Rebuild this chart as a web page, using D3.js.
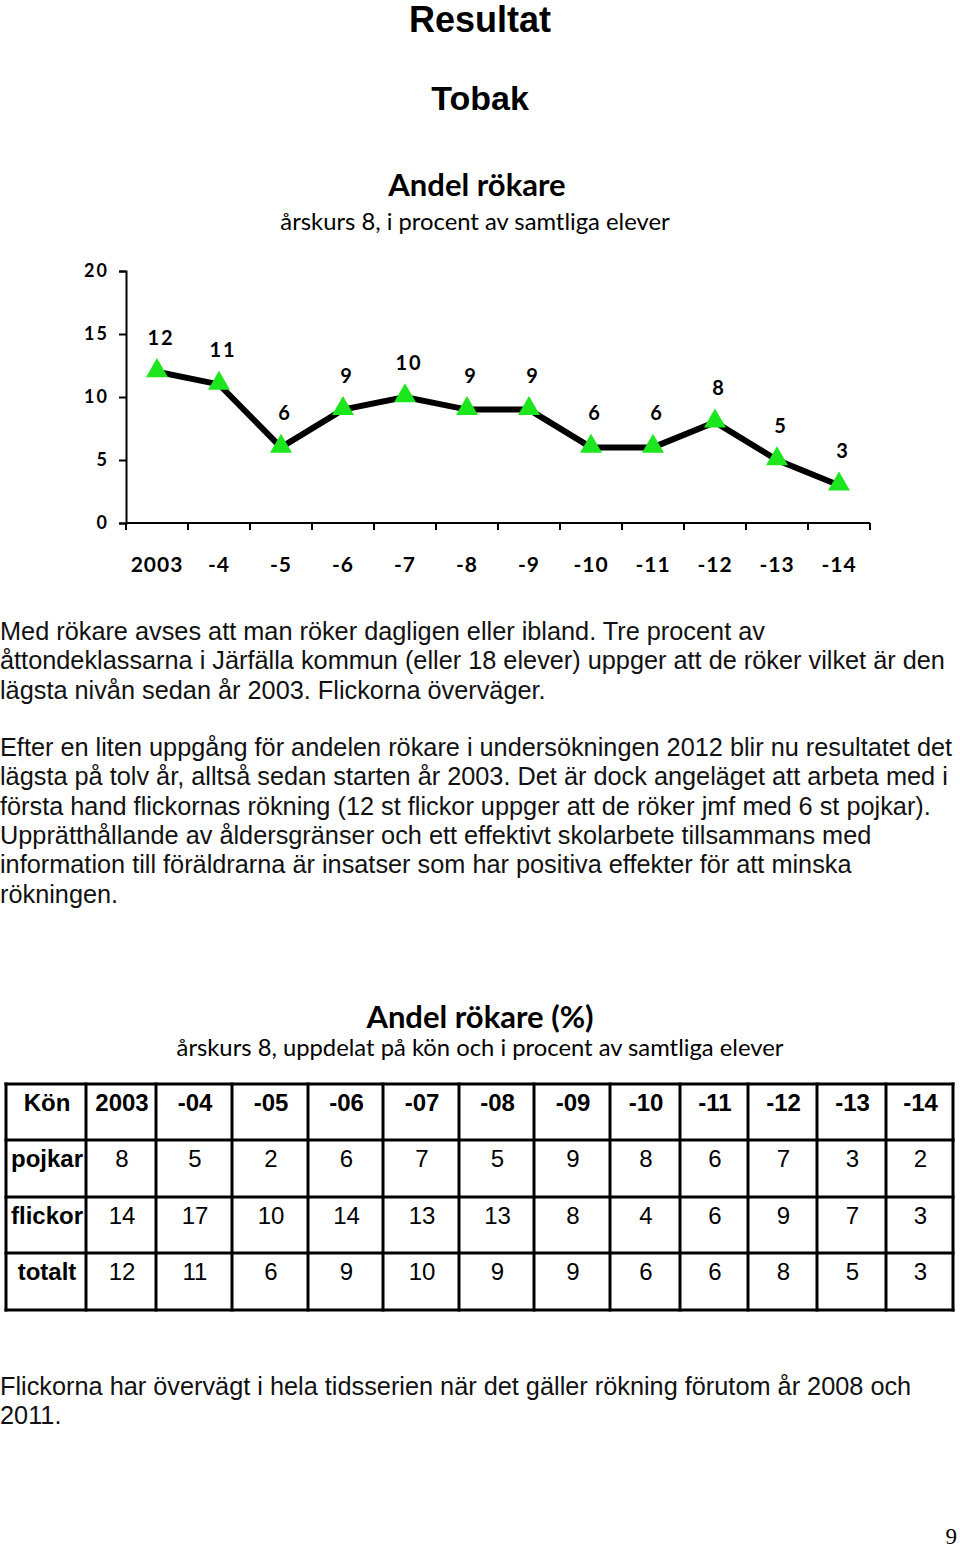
<!DOCTYPE html>
<html>
<head>
<meta charset="utf-8">
<script src="https://cdn.jsdelivr.net/npm/d3@7"></script>
<style>
  html, body { margin: 0; padding: 0; background: #fff; }
  svg { display: block; }
</style>
</head>
<body>
<script>
// ---------- data ----------
const chartCategories = ["2003", "-4", "-5", "-6", "-7", "-8", "-9", "-10", "-11", "-12", "-13", "-14"];
const totalValues = [12, 11, 6, 9, 10, 9, 9, 6, 6, 8, 5, 3];
const yTickValues = [0, 5, 10, 15, 20];

const tableHeader = ["Kön", "2003", "-04", "-05", "-06", "-07", "-08", "-09", "-10", "-11", "-12", "-13", "-14"];
const rowLabels = ["pojkar", "flickor", "totalt"];
const boysValues = [8, 5, 2, 6, 7, 5, 9, 8, 6, 7, 3, 2];
const girlsValues = [14, 17, 10, 14, 13, 13, 8, 4, 6, 9, 7, 3];
const totalTableValues = [12, 11, 6, 9, 10, 9, 9, 6, 6, 8, 5, 3];

const paragraph1 = [
  "Med rökare avses att man röker dagligen eller ibland. Tre procent av",
  "åttondeklassarna i Järfälla kommun (eller 18 elever) uppger att de röker vilket är den",
  "lägsta nivån sedan år 2003. Flickorna överväger."
];
const paragraph2 = [
  "Efter en liten uppgång för andelen rökare i undersökningen 2012 blir nu resultatet det",
  "lägsta på tolv år, alltså sedan starten år 2003. Det är dock angeläget att arbeta med i",
  "första hand flickornas rökning (12 st flickor uppger att de röker jmf med 6 st pojkar).",
  "Upprätthållande av åldersgränser och ett effektivt skolarbete tillsammans med",
  "information till föräldrarna är insatser som har positiva effekter för att minska",
  "rökningen."
];
const paragraph3 = [
  "Flickorna har övervägt i hela tidsserien när det gäller rökning förutom år 2008 och",
  "2011."
];

// ---------- layout ----------
const W = 960, H = 1550;
const svg = d3.select("body").append("svg").attr("width", W).attr("height", H);

const sans = "'Liberation Sans', Arial, Helvetica, sans-serif";
const humanist = "Lato, 'Open Sans', sans-serif";

// Page titles
svg.append("text").attr("x", 480).attr("y", 32).attr("text-anchor", "middle")
  .style("font-family", sans).style("font-weight", "bold").style("font-size", "36px").text("Resultat");
svg.append("text").attr("x", 480).attr("y", 110).attr("text-anchor", "middle")
  .style("font-family", sans).style("font-weight", "bold").style("font-size", "34px").text("Tobak");

// Chart titles
svg.append("text").attr("x", 477).attr("y", 196).attr("text-anchor", "middle")
  .style("font-family", humanist).style("font-weight", "bold").style("font-size", "31px").text("Andel rökare");
svg.append("text").attr("x", 475).attr("y", 230).attr("text-anchor", "middle")
  .style("font-family", humanist).style("font-size", "23.8px").text("årskurs 8, i procent av samtliga elever");

// ---------- line chart ----------
const x = d3.scaleBand().domain(chartCategories).range([126, 870]).padding(0);
const y = d3.scaleLinear().domain([0, 20]).range([523, 271]);

const g = svg.append("g");

// y axis
const yAxis = d3.axisLeft(y).tickValues(yTickValues).tickSize(7).tickPadding(10);
const yg = g.append("g").attr("transform", "translate(126,0)").call(yAxis);
yg.select(".domain").attr("stroke", "#000").attr("stroke-width", 2);
yg.selectAll(".tick line").attr("stroke", "#000").attr("stroke-width", 2);
yg.selectAll(".tick text").style("font-family", humanist).style("font-weight", "bold")
  .style("font-size", "18px").attr("fill", "#000").style("letter-spacing", "2px");

// x axis (ticks between categories)
const xg = g.append("g").attr("transform", "translate(0,523)");
xg.append("line").attr("x1", x.range()[0]).attr("x2", x.range()[1])
  .attr("stroke", "#000").attr("stroke-width", 2);
const tickPos = chartCategories.map(c => x(c)).concat([x.range()[1]]);
xg.selectAll("line.tk").data(tickPos).enter().append("line").attr("class", "tk")
  .attr("x1", d => d).attr("x2", d => d).attr("y1", 0).attr("y2", 7)
  .attr("stroke", "#000").attr("stroke-width", 2);
xg.selectAll("text.xl").data(chartCategories).enter().append("text").attr("class", "xl")
  .attr("x", d => x(d) + x.bandwidth() / 2).attr("y", 49).attr("text-anchor", "middle")
  .style("font-family", humanist).style("font-weight", "bold").style("font-size", "21px")
  .style("letter-spacing", "1px").text(d => d);

// line
const pts = chartCategories.map((c, i) => ({ c, v: totalValues[i] }));
const line = d3.line().x(d => x(d.c) + x.bandwidth() / 2).y(d => y(d.v));
g.append("path").datum(pts).attr("d", line).attr("fill", "none")
  .attr("stroke", "#000").attr("stroke-width", 6).attr("stroke-linejoin", "miter");

// triangles
const tri = d3.symbol().type(d3.symbolTriangle).size(210);
g.selectAll("path.tri").data(pts).enter().append("path").attr("class", "tri")
  .attr("d", tri)
  .attr("transform", d => `translate(${x(d.c) + x.bandwidth() / 2},${y(d.v) - 1})`)
  .attr("fill", "#1ee61e");

// data labels
g.selectAll("text.dl").data(pts).enter().append("text").attr("class", "dl")
  .attr("x", d => x(d.c) + x.bandwidth() / 2 + 4).attr("y", d => y(d.v) - 27)
  .attr("text-anchor", "middle")
  .style("font-family", humanist).style("font-weight", "bold").style("font-size", "20px")
  .style("letter-spacing", "2px").text(d => d.v);

// ---------- paragraphs ----------
function para(lines, y0) {
  svg.append("g").selectAll("text").data(lines).enter().append("text")
    .attr("x", 0).attr("y", (d, i) => y0 + i * 29.3)
    .style("font-family", sans).style("font-size", "25.3px").attr("fill", "#111")
    .text(d => d);
}
para(paragraph1, 640);
para(paragraph2, 756);
para(paragraph3, 1395);

// ---------- table ----------
svg.append("text").attr("x", 480).attr("y", 1028).attr("text-anchor", "middle")
  .style("font-family", humanist).style("font-weight", "bold").style("font-size", "31px").text("Andel rökare (%)");
svg.append("text").attr("x", 480).attr("y", 1056).attr("text-anchor", "middle")
  .style("font-family", humanist).style("font-size", "23.8px")
  .text("årskurs 8, uppdelat på kön och i procent av samtliga elever");

const colEdges = [6, 86, 156, 232, 308, 383, 459, 534, 610, 680, 748, 817, 886, 953];
const rowEdges = [1084, 1140, 1197, 1253, 1310];
const tbl = svg.append("g");
const rows = [tableHeader,
  [rowLabels[0]].concat(boysValues),
  [rowLabels[1]].concat(girlsValues),
  [rowLabels[2]].concat(totalTableValues)];

rows.forEach((r, ri) => {
  r.forEach((cell, ci) => {
    const bold = ri === 0 || ci === 0;
    tbl.append("text")
      .attr("x", (colEdges[ci] + colEdges[ci + 1]) / 2 + 1)
      .attr("y", rowEdges[ri] + 27)
      .attr("text-anchor", "middle")
      .style("font-family", sans).style("font-weight", bold ? "bold" : "normal")
      .style("font-size", "24px").text(cell);
  });
});
// grid lines
tbl.selectAll("line.v").data(colEdges).enter().append("line").attr("class", "v")
  .attr("x1", d => d).attr("x2", d => d).attr("y1", rowEdges[0] - 1.5).attr("y2", rowEdges[rowEdges.length - 1] + 1.5)
  .attr("stroke", "#000").attr("stroke-width", 3);
tbl.selectAll("line.h").data(rowEdges).enter().append("line").attr("class", "h")
  .attr("y1", d => d).attr("y2", d => d).attr("x1", colEdges[0] - 1.5).attr("x2", colEdges[colEdges.length - 1] + 1.5)
  .attr("stroke", "#000").attr("stroke-width", 3);

// page number
svg.append("text").attr("x", 957).attr("y", 1544).attr("text-anchor", "end")
  .style("font-family", "'Liberation Serif', 'Times New Roman', serif").style("font-size", "23px").text("9");
</script>
</body>
</html>
